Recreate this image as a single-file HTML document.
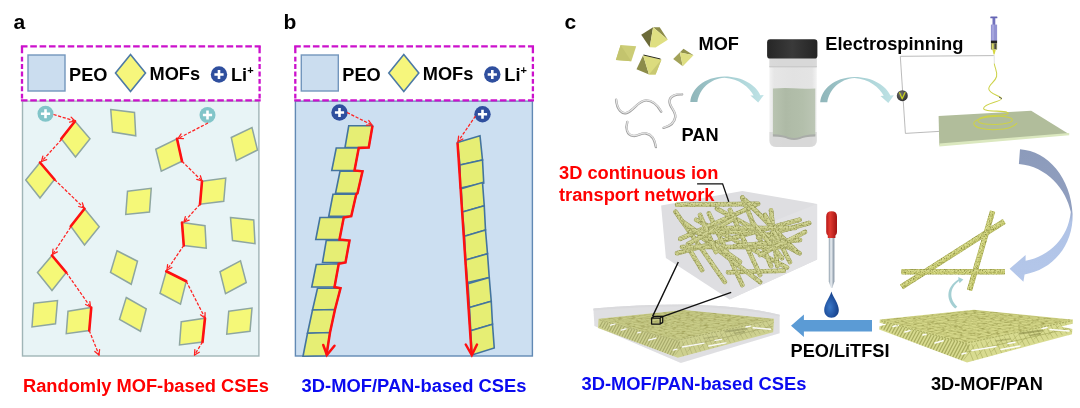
<!DOCTYPE html>
<html lang="en"><head><meta charset="utf-8"><title>MOF/PAN composite solid electrolytes schematic</title>
<style>
html,body{margin:0;padding:0;background:#fff}
svg{display:block}
text{font-family:'Liberation Sans', sans-serif;font-weight:bold}
</style></head>
<body>
<svg width="1080" height="408" viewBox="0 0 1080 408">
<rect width="1080" height="408" fill="#fff"/>
<g opacity="0.999">
<text x="13.5" y="29" font-size="21" fill="#000" text-anchor="start" >a</text>
<rect x="22.5" y="101" width="236.4" height="255" fill="#e8f4f6" stroke="#a0b5b7" stroke-width="1.4"/>
<rect x="22" y="46.3" width="237.6" height="54" fill="#fff"/>
<path d="M20.9,46.3 H260.70000000000005 M20.9,100.3 H260.70000000000005" fill="none" stroke="#cc11cc" stroke-width="2.3" stroke-dasharray="6.6 2.75"/>
<path d="M22,46.3 V100.3 M259.6,46.3 V100.3" fill="none" stroke="#cc11cc" stroke-width="2.3" stroke-dasharray="7 3.4 4.9 2.5 4.9 2.5 4.9 2.5 4.9 2.5 4.9 2.5 4.9 2.2 10"/>
<rect x="28" y="55" width="37" height="36" fill="#cbddef" stroke="#7396bd" stroke-width="1.4"/>
<text x="69" y="80.5" font-size="18.2" fill="#000" text-anchor="start" >PEO</text>
<polygon points="130.50,54.50 145.50,73.00 130.50,91.50 115.50,73.00" fill="#f6f67c" stroke="#4d7aa6" stroke-width="1.6" stroke-linejoin="miter" />
<text x="149.5" y="79.5" font-size="18.2" fill="#000" text-anchor="start" >MOFs</text>
<circle cx="219" cy="74.5" r="8.2" fill="#2f4f9e"/>
<path d="M214.4,74.5H223.6M219,69.9V79.1" stroke="#fff" stroke-width="2.6" fill="none"/>
<text x="231" y="80.5" font-size="18.2" fill="#000" text-anchor="start" >Li<tspan font-size="11" dy="-7">+</tspan></text>
<polygon points="75.00,121.25 90.00,138.75 75.50,157.00 61.25,138.75" fill="#f5f878" stroke="#8ea6a0" stroke-width="1.5" stroke-linejoin="miter" />
<polygon points="110.75,109.50 134.50,112.50 135.75,135.75 112.50,132.00" fill="#f5f878" stroke="#8ea6a0" stroke-width="1.5" stroke-linejoin="miter" />
<polygon points="155.75,149.25 177.00,138.75 182.00,161.25 161.25,171.25" fill="#f5f878" stroke="#8ea6a0" stroke-width="1.5" stroke-linejoin="miter" />
<polygon points="231.25,137.50 252.00,127.50 257.50,150.00 236.25,160.75" fill="#f5f878" stroke="#8ea6a0" stroke-width="1.5" stroke-linejoin="miter" />
<polygon points="40.00,162.50 54.50,179.50 40.00,198.00 25.75,180.00" fill="#f5f878" stroke="#8ea6a0" stroke-width="1.5" stroke-linejoin="miter" />
<polygon points="127.50,191.25 151.25,188.25 149.50,212.00 125.75,214.50" fill="#f5f878" stroke="#8ea6a0" stroke-width="1.5" stroke-linejoin="miter" />
<polygon points="202.00,181.25 225.75,178.00 223.75,201.25 200.00,204.25" fill="#f5f878" stroke="#8ea6a0" stroke-width="1.5" stroke-linejoin="miter" />
<polygon points="84.50,208.75 99.25,226.75 84.50,245.00 70.75,226.25" fill="#f5f878" stroke="#8ea6a0" stroke-width="1.5" stroke-linejoin="miter" />
<polygon points="182.00,222.50 205.00,225.75 206.25,248.25 183.75,245.50" fill="#f5f878" stroke="#8ea6a0" stroke-width="1.5" stroke-linejoin="miter" />
<polygon points="230.50,217.50 253.75,220.00 255.00,243.75 232.50,240.50" fill="#f5f878" stroke="#8ea6a0" stroke-width="1.5" stroke-linejoin="miter" />
<polygon points="52.00,255.50 66.25,272.50 52.00,290.50 37.50,272.50" fill="#f5f878" stroke="#8ea6a0" stroke-width="1.5" stroke-linejoin="miter" />
<polygon points="117.00,250.75 137.50,261.25 131.25,284.25 110.50,272.50" fill="#f5f878" stroke="#8ea6a0" stroke-width="1.5" stroke-linejoin="miter" />
<polygon points="166.25,271.25 186.25,281.25 180.50,304.25 160.00,293.25" fill="#f5f878" stroke="#8ea6a0" stroke-width="1.5" stroke-linejoin="miter" />
<polygon points="220.00,271.75 240.50,260.75 246.25,282.50 225.50,293.75" fill="#f5f878" stroke="#8ea6a0" stroke-width="1.5" stroke-linejoin="miter" />
<polygon points="33.75,303.25 57.50,300.50 55.50,323.75 32.00,327.00" fill="#f5f878" stroke="#8ea6a0" stroke-width="1.5" stroke-linejoin="miter" />
<polygon points="68.00,311.25 91.25,307.50 89.25,330.50 66.25,333.75" fill="#f5f878" stroke="#8ea6a0" stroke-width="1.5" stroke-linejoin="miter" />
<polygon points="126.25,297.50 146.25,308.75 140.50,331.25 119.50,319.50" fill="#f5f878" stroke="#8ea6a0" stroke-width="1.5" stroke-linejoin="miter" />
<polygon points="181.25,321.75 205.00,318.25 202.50,342.00 179.50,345.00" fill="#f5f878" stroke="#8ea6a0" stroke-width="1.5" stroke-linejoin="miter" />
<polygon points="228.75,311.25 252.00,308.00 250.00,331.25 226.75,334.25" fill="#f5f878" stroke="#8ea6a0" stroke-width="1.5" stroke-linejoin="miter" />
<line x1="75.00" y1="121.25" x2="61.25" y2="138.75" stroke="#ff1010" stroke-width="2.6" stroke-linecap="round"/>
<line x1="177.00" y1="138.75" x2="182.00" y2="161.25" stroke="#ff1010" stroke-width="2.6" stroke-linecap="round"/>
<line x1="40.00" y1="162.50" x2="54.50" y2="179.50" stroke="#ff1010" stroke-width="2.6" stroke-linecap="round"/>
<line x1="202.00" y1="181.25" x2="200.00" y2="204.25" stroke="#ff1010" stroke-width="2.6" stroke-linecap="round"/>
<line x1="84.50" y1="208.75" x2="70.75" y2="226.25" stroke="#ff1010" stroke-width="2.6" stroke-linecap="round"/>
<line x1="182.00" y1="222.50" x2="183.75" y2="245.50" stroke="#ff1010" stroke-width="2.6" stroke-linecap="round"/>
<line x1="52.00" y1="255.50" x2="66.25" y2="272.50" stroke="#ff1010" stroke-width="2.6" stroke-linecap="round"/>
<line x1="166.25" y1="271.25" x2="186.25" y2="281.25" stroke="#ff1010" stroke-width="2.6" stroke-linecap="round"/>
<line x1="91.25" y1="307.50" x2="89.25" y2="330.50" stroke="#ff1010" stroke-width="2.6" stroke-linecap="round"/>
<line x1="205.00" y1="318.25" x2="202.50" y2="342.00" stroke="#ff1010" stroke-width="2.6" stroke-linecap="round"/>
<circle cx="45.5" cy="113.75" r="8" fill="#82c5c9"/>
<path d="M40.9,113.75H50.1M45.5,109.15V118.35" stroke="#fff" stroke-width="2.6" fill="none"/>
<circle cx="207.5" cy="115" r="8" fill="#82c5c9"/>
<path d="M202.9,115H212.1M207.5,110.4V119.6" stroke="#fff" stroke-width="2.6" fill="none"/>
<line x1="53.50" y1="114.50" x2="75.00" y2="121.00" stroke="#ff2020" stroke-width="1.25" stroke-dasharray="3.2 1.6"/>
<line x1="75.00" y1="121.00" x2="69.60" y2="122.07" stroke="#ff2020" stroke-width="1.25" stroke-linecap="round"/>
<line x1="75.00" y1="121.00" x2="71.10" y2="117.12" stroke="#ff2020" stroke-width="1.25" stroke-linecap="round"/>
<line x1="61.50" y1="139.50" x2="41.50" y2="161.50" stroke="#ff2020" stroke-width="1.25" stroke-dasharray="3.2 1.6"/>
<line x1="41.50" y1="161.50" x2="42.86" y2="156.17" stroke="#ff2020" stroke-width="1.25" stroke-linecap="round"/>
<line x1="41.50" y1="161.50" x2="46.68" y2="159.64" stroke="#ff2020" stroke-width="1.25" stroke-linecap="round"/>
<line x1="54.50" y1="179.50" x2="84.00" y2="208.00" stroke="#ff2020" stroke-width="1.25" stroke-dasharray="3.2 1.6"/>
<line x1="84.00" y1="208.00" x2="78.71" y2="206.48" stroke="#ff2020" stroke-width="1.25" stroke-linecap="round"/>
<line x1="84.00" y1="208.00" x2="82.30" y2="202.77" stroke="#ff2020" stroke-width="1.25" stroke-linecap="round"/>
<line x1="70.75" y1="227.00" x2="52.50" y2="254.50" stroke="#ff2020" stroke-width="1.25" stroke-dasharray="3.2 1.6"/>
<line x1="52.50" y1="254.50" x2="53.03" y2="249.03" stroke="#ff2020" stroke-width="1.25" stroke-linecap="round"/>
<line x1="52.50" y1="254.50" x2="57.34" y2="251.88" stroke="#ff2020" stroke-width="1.25" stroke-linecap="round"/>
<line x1="66.25" y1="272.50" x2="90.50" y2="307.00" stroke="#ff2020" stroke-width="1.25" stroke-dasharray="3.2 1.6"/>
<line x1="90.50" y1="307.00" x2="85.59" y2="304.51" stroke="#ff2020" stroke-width="1.25" stroke-linecap="round"/>
<line x1="90.50" y1="307.00" x2="89.82" y2="301.54" stroke="#ff2020" stroke-width="1.25" stroke-linecap="round"/>
<line x1="89.25" y1="330.50" x2="99.00" y2="355.00" stroke="#ff2020" stroke-width="1.25" stroke-dasharray="3.2 1.6"/>
<line x1="99.00" y1="355.00" x2="94.81" y2="351.44" stroke="#ff2020" stroke-width="1.25" stroke-linecap="round"/>
<line x1="99.00" y1="355.00" x2="99.60" y2="349.53" stroke="#ff2020" stroke-width="1.25" stroke-linecap="round"/>
<line x1="208.00" y1="123.00" x2="178.00" y2="138.50" stroke="#ff2020" stroke-width="1.25" stroke-dasharray="3.2 1.6"/>
<line x1="178.00" y1="138.50" x2="181.13" y2="133.98" stroke="#ff2020" stroke-width="1.25" stroke-linecap="round"/>
<line x1="178.00" y1="138.50" x2="183.50" y2="138.56" stroke="#ff2020" stroke-width="1.25" stroke-linecap="round"/>
<line x1="182.00" y1="161.25" x2="202.00" y2="181.00" stroke="#ff2020" stroke-width="1.25" stroke-dasharray="3.2 1.6"/>
<line x1="202.00" y1="181.00" x2="196.73" y2="179.43" stroke="#ff2020" stroke-width="1.25" stroke-linecap="round"/>
<line x1="202.00" y1="181.00" x2="200.36" y2="175.75" stroke="#ff2020" stroke-width="1.25" stroke-linecap="round"/>
<line x1="200.00" y1="204.25" x2="184.00" y2="222.00" stroke="#ff2020" stroke-width="1.25" stroke-dasharray="3.2 1.6"/>
<line x1="184.00" y1="222.00" x2="185.33" y2="216.66" stroke="#ff2020" stroke-width="1.25" stroke-linecap="round"/>
<line x1="184.00" y1="222.00" x2="189.17" y2="220.12" stroke="#ff2020" stroke-width="1.25" stroke-linecap="round"/>
<line x1="183.75" y1="245.50" x2="167.00" y2="270.00" stroke="#ff2020" stroke-width="1.25" stroke-dasharray="3.2 1.6"/>
<line x1="167.00" y1="270.00" x2="167.61" y2="264.53" stroke="#ff2020" stroke-width="1.25" stroke-linecap="round"/>
<line x1="167.00" y1="270.00" x2="171.87" y2="267.45" stroke="#ff2020" stroke-width="1.25" stroke-linecap="round"/>
<line x1="186.25" y1="281.25" x2="205.00" y2="318.00" stroke="#ff2020" stroke-width="1.25" stroke-dasharray="3.2 1.6"/>
<line x1="205.00" y1="318.00" x2="200.49" y2="314.85" stroke="#ff2020" stroke-width="1.25" stroke-linecap="round"/>
<line x1="205.00" y1="318.00" x2="205.09" y2="312.50" stroke="#ff2020" stroke-width="1.25" stroke-linecap="round"/>
<line x1="202.50" y1="342.00" x2="194.50" y2="355.00" stroke="#ff2020" stroke-width="1.25" stroke-dasharray="3.2 1.6"/>
<line x1="194.50" y1="355.00" x2="194.85" y2="349.51" stroke="#ff2020" stroke-width="1.25" stroke-linecap="round"/>
<line x1="194.50" y1="355.00" x2="199.24" y2="352.22" stroke="#ff2020" stroke-width="1.25" stroke-linecap="round"/>
<text x="23" y="392.4" font-size="18.3" fill="#ff0000" text-anchor="start" >Randomly MOF-based CSEs</text>
<text x="283.5" y="29" font-size="21" fill="#000" text-anchor="start" >b</text>
<rect x="295.4" y="101" width="237" height="255" fill="#ccdff1" stroke="#6189b4" stroke-width="1.4"/>
<rect x="295.3" y="46.3" width="237.6" height="54" fill="#fff"/>
<path d="M294.2,46.3 H534.0 M294.2,100.3 H534.0" fill="none" stroke="#cc11cc" stroke-width="2.3" stroke-dasharray="6.6 2.75"/>
<path d="M295.3,46.3 V100.3 M532.9,46.3 V100.3" fill="none" stroke="#cc11cc" stroke-width="2.3" stroke-dasharray="7 3.4 4.9 2.5 4.9 2.5 4.9 2.5 4.9 2.5 4.9 2.5 4.9 2.2 10"/>
<rect x="301.3" y="55" width="37" height="36" fill="#cbddef" stroke="#7396bd" stroke-width="1.4"/>
<text x="342.3" y="80.5" font-size="18.2" fill="#000" text-anchor="start" >PEO</text>
<polygon points="403.80,54.50 418.80,73.00 403.80,91.50 388.80,73.00" fill="#f6f67c" stroke="#4d7aa6" stroke-width="1.6" stroke-linejoin="miter" />
<text x="422.8" y="79.5" font-size="18.2" fill="#000" text-anchor="start" >MOFs</text>
<circle cx="492.3" cy="74.5" r="8.2" fill="#2f4f9e"/>
<path d="M487.7,74.5H496.90000000000003M492.3,69.9V79.1" stroke="#fff" stroke-width="2.6" fill="none"/>
<text x="504.3" y="80.5" font-size="18.2" fill="#000" text-anchor="start" >Li<tspan font-size="11" dy="-7">+</tspan></text>
<polygon points="348.75,125.75 372.50,125.75 368.75,147.50 345.00,147.50" fill="#e6ee74" stroke="#44749e" stroke-width="1.6" stroke-linejoin="miter" />
<polygon points="336.25,148.00 358.75,148.00 354.50,170.50 331.75,170.50" fill="#e6ee74" stroke="#44749e" stroke-width="1.6" stroke-linejoin="miter" />
<polygon points="340.00,171.25 362.50,171.25 357.50,193.25 335.50,193.25" fill="#e6ee74" stroke="#44749e" stroke-width="1.6" stroke-linejoin="miter" />
<polygon points="333.00,194.25 356.25,194.25 351.25,216.25 328.75,216.25" fill="#e6ee74" stroke="#44749e" stroke-width="1.6" stroke-linejoin="miter" />
<polygon points="320.00,217.50 343.75,217.50 339.50,239.50 315.75,239.50" fill="#e6ee74" stroke="#44749e" stroke-width="1.6" stroke-linejoin="miter" />
<polygon points="326.25,240.50 349.50,240.50 345.50,262.50 322.50,262.50" fill="#e6ee74" stroke="#44749e" stroke-width="1.6" stroke-linejoin="miter" />
<polygon points="316.25,264.50 338.75,263.75 334.50,287.00 311.75,287.00" fill="#e6ee74" stroke="#44749e" stroke-width="1.6" stroke-linejoin="miter" />
<polygon points="317.50,288.25 340.50,288.25 335.00,309.50 312.50,310.00" fill="#e6ee74" stroke="#44749e" stroke-width="1.6" stroke-linejoin="miter" />
<polygon points="312.50,310.00 335.00,309.50 330.00,332.50 307.50,333.25" fill="#e6ee74" stroke="#44749e" stroke-width="1.6" stroke-linejoin="miter" />
<polygon points="307.50,333.25 330.00,332.50 326.25,355.75 303.00,356.25" fill="#e6ee74" stroke="#44749e" stroke-width="1.6" stroke-linejoin="miter" />
<polyline points="372.5,125.75 368.75,147.5 358.75,148 354.5,170.5 362.5,171.25 357.5,193.25 356.25,194.25 351.25,216.25 343.75,217.5 339.5,239.5 349.5,240.5 345.5,262.5 338.75,263.75 334.5,287 340.5,288.25 335,309.5 330,332.5 326.6,354.5" fill="none" stroke="#ff1010" stroke-width="2.5" stroke-linejoin="miter"/>
<polyline points="323.25,345 326.9,355 334.5,345.75" fill="none" stroke="#ff1010" stroke-width="2.5" stroke-linecap="round" stroke-linejoin="miter"/>
<polygon points="457.50,142.50 480.00,135.75 482.50,160.00 460.00,165.00" fill="#e6ee74" stroke="#44749e" stroke-width="1.6" stroke-linejoin="miter" />
<polygon points="460.00,165.00 482.50,160.00 483.75,183.00 460.50,188.00" fill="#e6ee74" stroke="#44749e" stroke-width="1.6" stroke-linejoin="miter" />
<polygon points="461.25,188.75 482.50,182.50 484.25,205.75 462.50,212.00" fill="#e6ee74" stroke="#44749e" stroke-width="1.6" stroke-linejoin="miter" />
<polygon points="462.50,212.00 484.25,205.75 485.50,230.00 464.50,236.25" fill="#e6ee74" stroke="#44749e" stroke-width="1.6" stroke-linejoin="miter" />
<polygon points="464.50,236.25 485.50,230.00 487.50,253.75 465.75,260.00" fill="#e6ee74" stroke="#44749e" stroke-width="1.6" stroke-linejoin="miter" />
<polygon points="465.75,260.00 487.50,253.75 489.25,277.50 467.50,282.50" fill="#e6ee74" stroke="#44749e" stroke-width="1.6" stroke-linejoin="miter" />
<polygon points="468.00,283.75 489.25,277.50 491.25,301.25 469.50,307.50" fill="#e6ee74" stroke="#44749e" stroke-width="1.6" stroke-linejoin="miter" />
<polygon points="469.50,307.50 491.25,301.25 492.50,324.25 470.75,330.75" fill="#e6ee74" stroke="#44749e" stroke-width="1.6" stroke-linejoin="miter" />
<polygon points="470.75,330.75 492.50,324.25 494.25,348.00 472.00,355.00" fill="#e6ee74" stroke="#44749e" stroke-width="1.6" stroke-linejoin="miter" />
<polyline points="457.5,142.5 471.6,354" fill="none" stroke="#ff1010" stroke-width="2.5"/>
<polyline points="465.75,344.5 471.8,355 477,344.5" fill="none" stroke="#ff1010" stroke-width="2.5" stroke-linecap="round"/>
<circle cx="339.5" cy="112.5" r="8.2" fill="#2f4f9e"/>
<path d="M334.9,112.5H344.1M339.5,107.9V117.1" stroke="#fff" stroke-width="2.6" fill="none"/>
<circle cx="482.5" cy="114.25" r="8.2" fill="#2f4f9e"/>
<path d="M477.9,114.25H487.1M482.5,109.65V118.85" stroke="#fff" stroke-width="2.6" fill="none"/>
<line x1="347.00" y1="112.50" x2="372.00" y2="125.00" stroke="#ff2020" stroke-width="1.25" stroke-dasharray="3.2 1.6"/>
<line x1="372.00" y1="125.00" x2="366.50" y2="125.14" stroke="#ff2020" stroke-width="1.25" stroke-linecap="round"/>
<line x1="372.00" y1="125.00" x2="368.81" y2="120.52" stroke="#ff2020" stroke-width="1.25" stroke-linecap="round"/>
<line x1="475.50" y1="116.00" x2="458.00" y2="141.50" stroke="#ff2020" stroke-width="1.25" stroke-dasharray="3.2 1.6"/>
<line x1="458.00" y1="141.50" x2="458.62" y2="136.03" stroke="#ff2020" stroke-width="1.25" stroke-linecap="round"/>
<line x1="458.00" y1="141.50" x2="462.88" y2="138.96" stroke="#ff2020" stroke-width="1.25" stroke-linecap="round"/>
<text x="301.6" y="391.8" font-size="18.35" fill="#0a0af0" text-anchor="start" >3D-MOF/PAN-based CSEs</text>
<defs>
<filter id="tex" x="-5%" y="-5%" width="110%" height="110%" color-interpolation-filters="sRGB">
<feTurbulence type="fractalNoise" baseFrequency="0.75" numOctaves="2" seed="4" result="n"/>
<feColorMatrix in="n" type="matrix" values="0 0 0 0 0.55 0 0 0 0 0.56 0 0 0 0 0.26 2.6 0 0 0 -1.15" result="dk"/>
<feComposite in="dk" in2="SourceGraphic" operator="in" result="d2"/>
<feColorMatrix in="n" type="matrix" values="0 0 0 0 0.92 0 0 0 0 0.94 0 0 0 0 0.66 0 -2.6 0 0 1.0" result="lt"/>
<feComposite in="lt" in2="SourceGraphic" operator="in" result="l2"/>
<feMerge><feMergeNode in="SourceGraphic"/><feMergeNode in="l2"/><feMergeNode in="d2"/></feMerge>
</filter>
<filter id="tex2" x="-5%" y="-5%" width="110%" height="110%" color-interpolation-filters="sRGB">
<feTurbulence type="fractalNoise" baseFrequency="0.22 0.6" numOctaves="2" seed="9" result="n"/>
<feColorMatrix in="n" type="matrix" values="0 0 0 0 0.60 0 0 0 0 0.60 0 0 0 0 0.30 2.6 0 0 0 -1.25" result="dk"/>
<feComposite in="dk" in2="SourceGraphic" operator="in" result="d2"/>
<feMerge><feMergeNode in="SourceGraphic"/><feMergeNode in="d2"/></feMerge>
</filter>
<filter id="tex3" x="-5%" y="-5%" width="110%" height="110%" color-interpolation-filters="sRGB">
<feTurbulence type="fractalNoise" baseFrequency="0.6" numOctaves="2" seed="5" result="n"/>
<feColorMatrix in="n" type="matrix" values="0 0 0 0 0.55 0 0 0 0 0.56 0 0 0 0 0.30 2.8 0 0 0 -1.3" result="dk"/>
<feComposite in="dk" in2="SourceGraphic" operator="in" result="d2"/>
<feMerge><feMergeNode in="SourceGraphic"/><feMergeNode in="d2"/></feMerge>
</filter>
<filter id="soft" x="-5%" y="-10%" width="110%" height="120%"><feGaussianBlur stdDeviation="0.45"/></filter>
<linearGradient id="gCap" x1="0" x2="1" y1="0" y2="0"><stop offset="0" stop-color="#262626"/><stop offset=".5" stop-color="#3a3a3a"/><stop offset="1" stop-color="#242424"/></linearGradient>
<linearGradient id="gVial" x1="0" x2="1" y1="0" y2="0"><stop offset="0" stop-color="#f2f2f2"/><stop offset=".1" stop-color="#e6e6e6"/><stop offset=".5" stop-color="#e2e2e2"/><stop offset=".9" stop-color="#e4e4e4"/><stop offset="1" stop-color="#f3f3f3"/></linearGradient>
<linearGradient id="gLiq" x1="0" x2="1" y1="0" y2="0"><stop offset="0" stop-color="#b9c4b1"/><stop offset=".3" stop-color="#aebaa6"/><stop offset=".7" stop-color="#b3bfab"/><stop offset="1" stop-color="#bcc6b5"/></linearGradient>
<linearGradient id="gA1" x1="0" x2="1" y1="0" y2="0"><stop offset="0" stop-color="#8fb5b9"/><stop offset=".5" stop-color="#a6cfd3"/><stop offset="1" stop-color="#bfe3e6"/></linearGradient>
<linearGradient id="gBig" x1="0" x2="0" y1="0" y2="1"><stop offset="0" stop-color="#8c9bbb"/><stop offset=".45" stop-color="#919fbf"/><stop offset=".55" stop-color="#b0c3e6"/><stop offset="1" stop-color="#b4c7ea"/></linearGradient>
<linearGradient id="gBulb" x1="0" x2="1" y1="0" y2="0"><stop offset="0" stop-color="#b81818"/><stop offset=".35" stop-color="#e23a30"/><stop offset="1" stop-color="#a01212"/></linearGradient>
<linearGradient id="gTube" x1="0" x2="1" y1="0" y2="0"><stop offset="0" stop-color="#8a9aa8"/><stop offset=".4" stop-color="#eef2f6"/><stop offset="1" stop-color="#7c8c9c"/></linearGradient>
<radialGradient id="gDrop" cx=".4" cy=".6" r=".7"><stop offset="0" stop-color="#3a78c8"/><stop offset=".6" stop-color="#1f4f9c"/><stop offset="1" stop-color="#163a7a"/></radialGradient>
<radialGradient id="gV" cx=".4" cy=".35" r=".7"><stop offset="0" stop-color="#707070"/><stop offset="1" stop-color="#2c2c2c"/></radialGradient>
</defs>
<polygon points="653.10,27.30 641.20,34.70 649.70,47.20" fill="#6c6b39" />
<polygon points="653.10,27.30 659.70,27.30 667.80,39.80" fill="#8d8c4a" />
<polygon points="653.10,27.30 667.80,39.80 655.60,47.40 649.70,47.20" fill="#dfdf82" />
<polygon points="620.60,45.00 636.20,46.20 631.30,61.20 615.90,60.00" fill="#cccd76" />
<polygon points="620.60,45.00 631.30,61.20 615.90,60.00" fill="#c3c46e" />
<polygon points="643.10,55.30 636.50,69.30 649.00,74.60" fill="#8c8c4a" />
<polygon points="643.10,55.30 661.50,59.40 655.60,74.60 649.00,74.60" fill="#dcdc7e" />
<polygon points="649.00,74.60 655.60,74.60 661.50,59.40" fill="#c9c972" />
<path d="M643.5,55 L660.5,59" stroke="#2a2a1a" stroke-width="1" fill="none"/>
<polygon points="683.50,48.70 673.20,59.00 679.90,52.50" fill="#7f7f42" />
<polygon points="683.50,48.70 693.50,55.30 679.90,52.50" fill="#92924c" />
<polygon points="673.20,59.00 679.90,52.50 682.80,66.30" fill="#a2a258" />
<polygon points="679.90,52.50 693.50,55.30 682.80,66.30" fill="#dede82" />
<path d="M616.1,99.6 C617,110 622,114.3 626.6,113 C633.5,111 638,100.6 646.1,100.4 C653,100.3 658,106 661.2,111.6" stroke="#9c9c9c" stroke-width="2.4" fill="none" stroke-linecap="round"/>
<path d="M616.1,99.6 C617,110 622,114.3 626.6,113 C633.5,111 638,100.6 646.1,100.4 C653,100.3 658,106 661.2,111.6" stroke="#e4e4e4" stroke-width="1.25" fill="none" stroke-linecap="round" transform="translate(0.1,-0.35)"/>
<path d="M682.1,94.4 C676,94 670,96 669.5,101 C669,107 676,111 675.3,117 C674.5,123 669,126.5 663.6,127.9" stroke="#9c9c9c" stroke-width="2.4" fill="none" stroke-linecap="round"/>
<path d="M682.1,94.4 C676,94 670,96 669.5,101 C669,107 676,111 675.3,117 C674.5,123 669,126.5 663.6,127.9" stroke="#e4e4e4" stroke-width="1.25" fill="none" stroke-linecap="round" transform="translate(0.1,-0.35)"/>
<path d="M627.3,121.9 C625.5,128 626.5,135 633.3,135.9 C638,136.5 641,132.5 646.1,133.5 C652,134.7 655,141 655.9,147.1" stroke="#9c9c9c" stroke-width="2.4" fill="none" stroke-linecap="round"/>
<path d="M627.3,121.9 C625.5,128 626.5,135 633.3,135.9 C638,136.5 641,132.5 646.1,133.5 C652,134.7 655,141 655.9,147.1" stroke="#e4e4e4" stroke-width="1.25" fill="none" stroke-linecap="round" transform="translate(0.1,-0.35)"/>
<path d="M690.3,101.9 C691.5,89.0 704.0,77.0 724.5,76.6 C743.0,76.6 756.0,85.5 760.3,95.2 L763.8,95.0 L758.2,102.6 L750.4,95.6 L753.6,95.5 C749.5,87.5 739.0,78.4 724.5,77.7 C710.0,78.6 699.5,89.0 697.4,101.9 Z" fill="url(#gA1)"/>
<path d="M820.2,102.2 C821.4,89.3 833.9,77.3 854.5,76.9 C873.1,76.9 886.1,85.8 890.4,95.5 L893.9,95.3 L888.3,102.9 L880.5,95.9 L883.7,95.8 C879.6,87.8 869.0,78.7 854.5,78.0 C840.0,78.9 829.4,89.3 827.3,102.2 Z" fill="url(#gA1)"/>
<path d="M769.4,57 H816.8 V140.5 Q816.8,146.9 809.5,146.9 H776.5 Q769.4,146.9 769.4,140.5 Z" fill="url(#gVial)"/>
<path d="M769.4,132 H816.8 V140.5 Q816.8,146.9 809.5,146.9 H776.5 Q769.4,146.9 769.4,140.5 Z" fill="#d4d4d4" opacity=".75"/>
<rect x="769.4" y="58" width="47.4" height="8.8" fill="#d6d6d6" opacity=".85"/>
<rect x="769.4" y="66" width="47.4" height="1.4" fill="#cbcbcb"/>
<path d="M772.9,88.6 Q783,87.6 793,88.3 T815.3,88.4 V135.2 Q804,135.4 800,137.8 Q794,140 788,137.8 Q784,135.4 772.9,135.2 Z" fill="url(#gLiq)"/>
<path d="M772.9,134.2 Q784,134.6 788,137 Q794,139 800,137 Q804,134.6 815.3,134.2 V136.4 Q804,136.8 800,139 Q794,141.2 788,139 Q784,136.8 772.9,136.4 Z" fill="#a9aca8"/>
<rect x="767.1" y="39.2" width="50.3" height="19.4" rx="3.2" fill="url(#gCap)"/>
<path d="M994,55.6 L900.3,56.3 L905.4,133.4 L939,131.4" stroke="#a4a4a4" stroke-width="0.75" fill="none"/>
<circle cx="902.3" cy="95.7" r="5.5" fill="url(#gV)"/>
<path d="M899.6,92.8 L902.2,98.8 L905,92.6" stroke="#c8d020" stroke-width="1.3" fill="none" stroke-linecap="round" stroke-linejoin="round"/>
<polygon points="938.60,115.90 1031.20,110.70 1069.20,134.30 939.30,145.30" fill="#b1bd9b" />
<polygon points="939.30,143.60 1069.20,133.00 1069.20,135.30 939.30,146.60" fill="#dbe8bf" />
<path d="M994.2,55 L994.4,64" stroke="#e6e6e6" stroke-width="1.2" fill="none"/>
<path d="M994.3,64 C995.3,69 997.6,72 996.6,76.5 C995,82.5 988.5,84.5 988.8,89 C989.2,94 1000.5,95.5 1001.6,98.5 C1002.5,101.5 984,103.5 983.6,108.3 C983.3,112 1003,110.4 1007,112.3 C1012,114.5 1000,115.4 993,115.6 C985,116 978,118 978,120.5 C978,123.5 986,124.6 996,124.4 C1005,124.2 1012.6,122.6 1012.4,119.8 C1012.2,117 1003,116 995,116.4 C982,117 973.6,120.2 973.8,123.6 C974,127.6 984,130.2 997,129.6 C1008,129.1 1014,126.6 1016.8,123.4" stroke="#cdd248" stroke-width="1.05" fill="none" stroke-linecap="round"/>
<path d="M999,97 L1001.8,98.6" stroke="#555" stroke-width="1" fill="none"/>
<rect x="990.3" y="16.4" width="7.1" height="1.9" rx=".6" fill="#6464b4"/>
<rect x="992.5" y="18" width="2.8" height="7" fill="#7070bc"/>
<rect x="990.9" y="24.6" width="6.2" height="16.4" fill="#9292d2"/>
<rect x="992.2" y="24.6" width="1.6" height="16.4" fill="#a8a8e0"/>
<rect x="990.9" y="40.6" width="6.2" height="2.4" fill="#222"/>
<rect x="990.9" y="43" width="6.2" height="6.6" fill="#8a8a60"/>
<rect x="992" y="43.6" width="1.6" height="5.4" fill="#d8d860"/><rect x="994.6" y="43.6" width="1.4" height="5.4" fill="#444"/>
<path d="M992.4,49.6 H995.8 L994.6,54.4 H993.6 Z" fill="#d6d640"/>
<path d="M1020,149.2 C1048,151 1071,178 1072.6,214 C1073.5,246 1052,270 1024.6,274.4 L1023.4,281.8 L1009.6,268.8 L1025.6,255 L1025.6,260.8 C1050,256 1068,238 1070.8,212 C1066.5,190 1047,166 1018.9,163.9 Z" fill="url(#gBig)"/>
<g filter="url(#soft)"><g filter="url(#tex)">
<line x1="901.6" y1="286.8" x2="1004.2" y2="221.3" stroke="#b4b764" stroke-width="5.6" stroke-linecap="butt"/><line x1="901.6" y1="286.8" x2="1004.2" y2="221.3" stroke="#cdd076" stroke-width="4.5" stroke-linecap="butt"/><line x1="901.1" y1="286.0" x2="1003.7" y2="220.5" stroke="#d8db8c" stroke-width="1.9" stroke-linecap="butt"/>
<line x1="969.5" y1="290.2" x2="992.6" y2="211.2" stroke="#b4b764" stroke-width="5.4" stroke-linecap="butt"/><line x1="969.5" y1="290.2" x2="992.6" y2="211.2" stroke="#cdd076" stroke-width="4.3" stroke-linecap="butt"/><line x1="968.7" y1="290.0" x2="991.8" y2="211.0" stroke="#d8db8c" stroke-width="1.8" stroke-linecap="butt"/>
<line x1="901.6" y1="271.8" x2="1004.8" y2="271.8" stroke="#b4b764" stroke-width="5.6" stroke-linecap="butt"/><line x1="901.6" y1="271.8" x2="1004.8" y2="271.8" stroke="#cdd076" stroke-width="4.5" stroke-linecap="butt"/><line x1="901.6" y1="270.9" x2="1004.8" y2="270.9" stroke="#d8db8c" stroke-width="1.9" stroke-linecap="butt"/>
</g>
</g>
<path d="M955.2,308.5 C946.4,301 944.9,288 958.5,279.3 L958.2,277.1 L963.4,279.5 L959.5,283.3 L959,281.1 C948.6,288.6 949.6,299.6 957.3,306.8 Z" fill="#a4cfd3"/>
<clipPath id="mc879"><polygon points="879.8,319.6 973.9,309.8 1073.0,319.6 1072.0,334.3 967.0,362.4 879.2,329.6"/></clipPath>
<g clip-path="url(#mc879)"><g filter="url(#soft)">
<polygon points="870.0,310.0 973.9,300.0 1083.0,310.0 1082.0,340.0 967.0,372.0 870.0,335.0" fill="#d8db90" />
<line x1="884.2" y1="322.9" x2="881.3" y2="328.2" stroke="#9da154" stroke-width="1.25" stroke-linecap="round" opacity="0.8"/>
<line x1="887.1" y1="323.7" x2="884.0" y2="329.4" stroke="#9da154" stroke-width="1.25" stroke-linecap="round" opacity="0.8"/>
<line x1="890.1" y1="324.4" x2="886.7" y2="330.6" stroke="#9da154" stroke-width="1.25" stroke-linecap="round" opacity="0.8"/>
<line x1="893.0" y1="325.2" x2="889.4" y2="331.8" stroke="#9da154" stroke-width="1.25" stroke-linecap="round" opacity="0.8"/>
<line x1="895.9" y1="325.9" x2="892.1" y2="333.0" stroke="#9da154" stroke-width="1.25" stroke-linecap="round" opacity="0.8"/>
<line x1="898.9" y1="326.7" x2="894.8" y2="334.1" stroke="#9da154" stroke-width="1.25" stroke-linecap="round" opacity="0.8"/>
<line x1="901.8" y1="327.5" x2="897.5" y2="335.3" stroke="#9da154" stroke-width="1.25" stroke-linecap="round" opacity="0.8"/>
<line x1="904.7" y1="328.2" x2="900.2" y2="336.5" stroke="#9da154" stroke-width="1.25" stroke-linecap="round" opacity="0.8"/>
<line x1="907.6" y1="329.0" x2="902.9" y2="337.7" stroke="#9da154" stroke-width="1.25" stroke-linecap="round" opacity="0.8"/>
<line x1="910.6" y1="329.7" x2="905.7" y2="338.9" stroke="#9da154" stroke-width="1.25" stroke-linecap="round" opacity="0.8"/>
<line x1="913.5" y1="330.5" x2="908.4" y2="340.1" stroke="#9da154" stroke-width="1.25" stroke-linecap="round" opacity="0.8"/>
<line x1="916.4" y1="331.2" x2="911.1" y2="341.3" stroke="#9da154" stroke-width="1.25" stroke-linecap="round" opacity="0.8"/>
<line x1="919.4" y1="332.0" x2="913.8" y2="342.5" stroke="#9da154" stroke-width="1.25" stroke-linecap="round" opacity="0.8"/>
<line x1="922.3" y1="332.8" x2="916.5" y2="343.7" stroke="#9da154" stroke-width="1.25" stroke-linecap="round" opacity="0.8"/>
<line x1="925.2" y1="333.5" x2="919.2" y2="344.9" stroke="#9da154" stroke-width="1.25" stroke-linecap="round" opacity="0.8"/>
<line x1="928.2" y1="334.3" x2="921.9" y2="346.0" stroke="#9da154" stroke-width="1.25" stroke-linecap="round" opacity="0.8"/>
<line x1="931.1" y1="335.0" x2="924.6" y2="347.2" stroke="#9da154" stroke-width="1.25" stroke-linecap="round" opacity="0.8"/>
<line x1="934.0" y1="335.8" x2="927.3" y2="348.4" stroke="#9da154" stroke-width="1.25" stroke-linecap="round" opacity="0.8"/>
<line x1="937.0" y1="336.6" x2="930.0" y2="349.6" stroke="#9da154" stroke-width="1.25" stroke-linecap="round" opacity="0.8"/>
<line x1="939.9" y1="337.3" x2="932.7" y2="350.8" stroke="#9da154" stroke-width="1.25" stroke-linecap="round" opacity="0.8"/>
<line x1="942.8" y1="338.1" x2="935.4" y2="352.0" stroke="#9da154" stroke-width="1.25" stroke-linecap="round" opacity="0.8"/>
<line x1="945.8" y1="338.8" x2="938.1" y2="353.2" stroke="#9da154" stroke-width="1.25" stroke-linecap="round" opacity="0.8"/>
<line x1="948.7" y1="339.6" x2="940.8" y2="354.4" stroke="#9da154" stroke-width="1.25" stroke-linecap="round" opacity="0.8"/>
<line x1="951.6" y1="340.3" x2="943.5" y2="355.6" stroke="#9da154" stroke-width="1.25" stroke-linecap="round" opacity="0.8"/>
<line x1="954.5" y1="341.1" x2="946.3" y2="356.8" stroke="#9da154" stroke-width="1.25" stroke-linecap="round" opacity="0.8"/>
<line x1="957.5" y1="341.9" x2="949.0" y2="357.9" stroke="#9da154" stroke-width="1.25" stroke-linecap="round" opacity="0.8"/>
<line x1="960.4" y1="342.6" x2="951.7" y2="359.1" stroke="#9da154" stroke-width="1.25" stroke-linecap="round" opacity="0.8"/>
<line x1="963.3" y1="343.4" x2="954.4" y2="360.3" stroke="#9da154" stroke-width="1.25" stroke-linecap="round" opacity="0.8"/>
<line x1="966.3" y1="344.1" x2="957.1" y2="361.5" stroke="#9da154" stroke-width="1.25" stroke-linecap="round" opacity="0.8"/>
<line x1="969.2" y1="344.9" x2="959.8" y2="362.7" stroke="#9da154" stroke-width="1.25" stroke-linecap="round" opacity="0.8"/>
<line x1="967.0" y1="345.1" x2="973.5" y2="361.0" stroke="#9da154" stroke-width="0.90" stroke-linecap="round" opacity="0.55"/>
<line x1="975.0" y1="345.1" x2="964.0" y2="359.4" stroke="#9da154" stroke-width="0.90" stroke-linecap="round" opacity="0.5"/>
<line x1="971.7" y1="344.1" x2="978.2" y2="359.6" stroke="#9da154" stroke-width="0.90" stroke-linecap="round" opacity="0.55"/>
<line x1="976.3" y1="343.0" x2="982.8" y2="358.2" stroke="#9da154" stroke-width="0.90" stroke-linecap="round" opacity="0.55"/>
<line x1="981.0" y1="342.0" x2="987.5" y2="356.9" stroke="#9da154" stroke-width="0.90" stroke-linecap="round" opacity="0.55"/>
<line x1="989.0" y1="342.0" x2="978.0" y2="355.3" stroke="#9da154" stroke-width="0.90" stroke-linecap="round" opacity="0.5"/>
<line x1="985.7" y1="340.9" x2="992.2" y2="355.5" stroke="#9da154" stroke-width="0.90" stroke-linecap="round" opacity="0.55"/>
<line x1="990.3" y1="339.9" x2="996.8" y2="354.1" stroke="#9da154" stroke-width="0.90" stroke-linecap="round" opacity="0.55"/>
<line x1="995.0" y1="338.8" x2="1001.5" y2="352.7" stroke="#9da154" stroke-width="0.90" stroke-linecap="round" opacity="0.55"/>
<line x1="1003.0" y1="338.8" x2="992.0" y2="351.3" stroke="#9da154" stroke-width="0.90" stroke-linecap="round" opacity="0.5"/>
<line x1="999.7" y1="337.8" x2="1006.2" y2="351.3" stroke="#9da154" stroke-width="0.90" stroke-linecap="round" opacity="0.55"/>
<line x1="1004.3" y1="336.7" x2="1010.8" y2="350.0" stroke="#9da154" stroke-width="0.90" stroke-linecap="round" opacity="0.55"/>
<line x1="1009.0" y1="335.7" x2="1015.5" y2="348.6" stroke="#9da154" stroke-width="0.90" stroke-linecap="round" opacity="0.55"/>
<line x1="1017.0" y1="335.7" x2="1006.0" y2="347.2" stroke="#9da154" stroke-width="0.90" stroke-linecap="round" opacity="0.5"/>
<line x1="1013.7" y1="334.6" x2="1020.2" y2="347.2" stroke="#9da154" stroke-width="0.90" stroke-linecap="round" opacity="0.55"/>
<line x1="1018.3" y1="333.6" x2="1024.8" y2="345.8" stroke="#9da154" stroke-width="0.90" stroke-linecap="round" opacity="0.55"/>
<line x1="1023.0" y1="332.5" x2="1029.5" y2="344.4" stroke="#9da154" stroke-width="0.90" stroke-linecap="round" opacity="0.55"/>
<line x1="1031.0" y1="332.5" x2="1020.0" y2="343.2" stroke="#9da154" stroke-width="0.90" stroke-linecap="round" opacity="0.5"/>
<line x1="1027.7" y1="331.5" x2="1034.2" y2="343.0" stroke="#9da154" stroke-width="0.90" stroke-linecap="round" opacity="0.55"/>
<line x1="1032.3" y1="330.4" x2="1038.8" y2="341.7" stroke="#9da154" stroke-width="0.90" stroke-linecap="round" opacity="0.55"/>
<line x1="1037.0" y1="329.4" x2="1043.5" y2="340.3" stroke="#9da154" stroke-width="0.90" stroke-linecap="round" opacity="0.55"/>
<line x1="1045.0" y1="329.4" x2="1034.0" y2="339.1" stroke="#9da154" stroke-width="0.90" stroke-linecap="round" opacity="0.5"/>
<line x1="1041.7" y1="328.3" x2="1048.2" y2="338.9" stroke="#9da154" stroke-width="0.90" stroke-linecap="round" opacity="0.55"/>
<line x1="1046.3" y1="327.3" x2="1052.8" y2="337.5" stroke="#9da154" stroke-width="0.90" stroke-linecap="round" opacity="0.55"/>
<line x1="1051.0" y1="326.2" x2="1057.5" y2="336.1" stroke="#9da154" stroke-width="0.90" stroke-linecap="round" opacity="0.55"/>
<line x1="1059.0" y1="326.2" x2="1048.0" y2="335.1" stroke="#9da154" stroke-width="0.90" stroke-linecap="round" opacity="0.5"/>
<line x1="1055.7" y1="325.2" x2="1062.2" y2="334.8" stroke="#9da154" stroke-width="0.90" stroke-linecap="round" opacity="0.55"/>
<line x1="1060.3" y1="324.1" x2="1066.8" y2="333.4" stroke="#9da154" stroke-width="0.90" stroke-linecap="round" opacity="0.55"/>
<line x1="1065.0" y1="323.1" x2="1071.5" y2="332.0" stroke="#9da154" stroke-width="0.90" stroke-linecap="round" opacity="0.55"/>
<line x1="1073.0" y1="323.1" x2="1062.0" y2="331.1" stroke="#9da154" stroke-width="0.90" stroke-linecap="round" opacity="0.5"/>
<line x1="967.0" y1="352.0" x2="1071.0" y2="328.0" stroke="#9da154" stroke-width="1.00" stroke-linecap="round" opacity="0.6"/>
<line x1="1020.0" y1="333.5" x2="1042.0" y2="330.5" stroke="#7c7e3c" stroke-width="2.20" stroke-linecap="round" opacity="0.55"/>
<line x1="1030.0" y1="335.5" x2="1040.0" y2="333.6" stroke="#7c7e3c" stroke-width="1.60" stroke-linecap="round" opacity="0.5"/>
<line x1="996.0" y1="341.0" x2="1010.0" y2="339.0" stroke="#7c7e3c" stroke-width="1.40" stroke-linecap="round" opacity="0.4"/>
<line x1="893.0" y1="326.6" x2="898.5" y2="325.2" stroke="#fff" stroke-width="1.50" stroke-linecap="round" opacity="0.95"/>
<line x1="905.0" y1="332.0" x2="910.0" y2="330.6" stroke="#fff" stroke-width="1.50" stroke-linecap="round" opacity="0.95"/>
<line x1="935.0" y1="343.0" x2="943.0" y2="340.8" stroke="#fff" stroke-width="1.50" stroke-linecap="round" opacity="0.95"/>
<line x1="972.0" y1="350.6" x2="996.0" y2="346.4" stroke="#fff" stroke-width="1.50" stroke-linecap="round" opacity="0.95"/>
<line x1="1050.0" y1="329.4" x2="1069.0" y2="331.0" stroke="#fff" stroke-width="1.50" stroke-linecap="round" opacity="0.95"/>
<line x1="1008.0" y1="343.4" x2="1015.0" y2="342.2" stroke="#fff" stroke-width="1.50" stroke-linecap="round" opacity="0.95"/>
<line x1="1042.0" y1="328.6" x2="1047.0" y2="327.6" stroke="#fff" stroke-width="1.50" stroke-linecap="round" opacity="0.95"/>
<line x1="962.0" y1="354.0" x2="966.0" y2="353.0" stroke="#fff" stroke-width="1.50" stroke-linecap="round" opacity="0.95"/>
<line x1="1001.0" y1="349.5" x2="1020.0" y2="346.0" stroke="#fff" stroke-width="1.50" stroke-linecap="round" opacity="0.95"/>
<line x1="923.0" y1="335.0" x2="926.0" y2="334.2" stroke="#fff" stroke-width="1.50" stroke-linecap="round" opacity="0.95"/>
<g filter="url(#tex2)">
<polygon points="879.8,319.6 973.9,309.8 1073.0,319.6 966.0,342.4" fill="#d6d88a" />
</g>
<line x1="883.2" y1="319.2" x2="969.8" y2="341.6" stroke="#a9ad60" stroke-width="0.70" stroke-linecap="round" opacity="0.5"/>
<line x1="889.9" y1="318.6" x2="977.5" y2="340.0" stroke="#a9ad60" stroke-width="0.70" stroke-linecap="round" opacity="0.5"/>
<line x1="896.6" y1="317.9" x2="985.1" y2="338.3" stroke="#a9ad60" stroke-width="0.70" stroke-linecap="round" opacity="0.5"/>
<line x1="903.3" y1="317.2" x2="992.8" y2="336.7" stroke="#a9ad60" stroke-width="0.70" stroke-linecap="round" opacity="0.5"/>
<line x1="910.0" y1="316.5" x2="1000.4" y2="335.1" stroke="#a9ad60" stroke-width="0.70" stroke-linecap="round" opacity="0.5"/>
<line x1="916.8" y1="315.8" x2="1008.0" y2="333.4" stroke="#a9ad60" stroke-width="0.70" stroke-linecap="round" opacity="0.5"/>
<line x1="923.5" y1="315.1" x2="1015.7" y2="331.8" stroke="#a9ad60" stroke-width="0.70" stroke-linecap="round" opacity="0.5"/>
<line x1="930.2" y1="314.4" x2="1023.3" y2="330.2" stroke="#a9ad60" stroke-width="0.70" stroke-linecap="round" opacity="0.5"/>
<line x1="936.9" y1="313.7" x2="1031.0" y2="328.6" stroke="#a9ad60" stroke-width="0.70" stroke-linecap="round" opacity="0.5"/>
<line x1="943.7" y1="312.9" x2="1038.6" y2="326.9" stroke="#a9ad60" stroke-width="0.70" stroke-linecap="round" opacity="0.5"/>
<line x1="950.4" y1="312.2" x2="1046.2" y2="325.3" stroke="#a9ad60" stroke-width="0.70" stroke-linecap="round" opacity="0.5"/>
<line x1="957.1" y1="311.6" x2="1053.9" y2="323.7" stroke="#a9ad60" stroke-width="0.70" stroke-linecap="round" opacity="0.5"/>
<line x1="963.8" y1="310.9" x2="1061.5" y2="322.0" stroke="#a9ad60" stroke-width="0.70" stroke-linecap="round" opacity="0.5"/>
<line x1="970.5" y1="310.2" x2="1069.2" y2="320.4" stroke="#a9ad60" stroke-width="0.70" stroke-linecap="round" opacity="0.5"/>
<line x1="884.1" y1="320.7" x2="978.9" y2="310.3" stroke="#adb164" stroke-width="0.70" stroke-linecap="round" opacity="0.45"/>
<line x1="892.7" y1="323.0" x2="988.8" y2="311.3" stroke="#adb164" stroke-width="0.70" stroke-linecap="round" opacity="0.45"/>
<line x1="901.3" y1="325.3" x2="998.7" y2="312.2" stroke="#adb164" stroke-width="0.70" stroke-linecap="round" opacity="0.45"/>
<line x1="910.0" y1="327.6" x2="1008.6" y2="313.2" stroke="#adb164" stroke-width="0.70" stroke-linecap="round" opacity="0.45"/>
<line x1="918.6" y1="329.9" x2="1018.5" y2="314.2" stroke="#adb164" stroke-width="0.70" stroke-linecap="round" opacity="0.45"/>
<line x1="927.2" y1="332.1" x2="1028.4" y2="315.2" stroke="#adb164" stroke-width="0.70" stroke-linecap="round" opacity="0.45"/>
<line x1="935.8" y1="334.4" x2="1038.3" y2="316.2" stroke="#adb164" stroke-width="0.70" stroke-linecap="round" opacity="0.45"/>
<line x1="944.5" y1="336.7" x2="1048.2" y2="317.2" stroke="#adb164" stroke-width="0.70" stroke-linecap="round" opacity="0.45"/>
<line x1="953.1" y1="339.0" x2="1058.1" y2="318.1" stroke="#adb164" stroke-width="0.70" stroke-linecap="round" opacity="0.45"/>
<line x1="961.7" y1="341.3" x2="1068.0" y2="319.1" stroke="#adb164" stroke-width="0.70" stroke-linecap="round" opacity="0.45"/>
<polyline points="881.0,320.8 966.0,343.2 1071.6,320.8" fill="none" stroke="#9da154" stroke-width="1.10" opacity=".75" stroke-dasharray="2.2 0.9"/>
</g></g>
<polygon points="878.50,322.60 886.50,324.60 878.50,326.40" fill="#fff" />
<polygon points="1074.00,323.20 1061.00,326.80 1074.00,329.20" fill="#fff" />
<polygon points="791.00,325.80 803.90,314.60 803.90,320.00 872.00,320.00 872.00,331.40 803.90,331.40 803.90,337.00" fill="#5b9bd5" />
<path d="M828.8,237 H834.4 V281.5 L832.3,288 H831 L828.8,281.5 Z" fill="url(#gTube)"/>
<path d="M826.2,216.5 Q826.2,211.2 831.6,211.2 Q837,211.2 837,216.5 V232 Q837,234.5 835.4,235.5 V238 H827.8 V235.5 Q826.2,234.5 826.2,232 Z" fill="url(#gBulb)"/>
<path d="M831.4,291.4 C833.5,298 838.8,303.5 838.8,310 C838.8,314.6 835.6,317.7 831.5,317.7 C827.4,317.7 824.2,314.6 824.2,310 C824.2,303.5 829.5,298 831.4,291.4 Z" fill="url(#gDrop)"/>
<path d="M593.4,308.5 Q640,304.5 683,304.6 Q740,305.5 779.6,314.7 L779.6,333.2 L680.8,363 L594.4,326 Z" fill="#e0e0e3"/>
<path d="M593.4,308.5 Q640,304.5 683,304.6 Q740,305.5 779.6,314.7 L779.6,316.4 Q740,307.4 683,306.4 Q640,306.4 593.4,310.4 Z" fill="#dadadd"/>
<g opacity=".98"><clipPath id="mc598"><polygon points="598.5,318.8 684.0,309.9 774.1,318.8 773.2,332.2 677.8,357.7 598.0,327.9"/></clipPath>
<g clip-path="url(#mc598)"><g filter="url(#soft)">
<polygon points="589.6,310.1 684.0,301.0 783.2,310.1 782.3,337.3 677.8,366.4 589.6,332.8" fill="#cdd08a" />
<line x1="602.5" y1="321.8" x2="599.9" y2="326.6" stroke="#999c58" stroke-width="1.14" stroke-linecap="round" opacity="0.8"/>
<line x1="605.2" y1="322.5" x2="602.3" y2="327.7" stroke="#999c58" stroke-width="1.14" stroke-linecap="round" opacity="0.8"/>
<line x1="607.8" y1="323.2" x2="604.8" y2="328.8" stroke="#999c58" stroke-width="1.14" stroke-linecap="round" opacity="0.8"/>
<line x1="610.5" y1="323.9" x2="607.2" y2="329.9" stroke="#999c58" stroke-width="1.14" stroke-linecap="round" opacity="0.8"/>
<line x1="613.2" y1="324.6" x2="609.7" y2="330.9" stroke="#999c58" stroke-width="1.14" stroke-linecap="round" opacity="0.8"/>
<line x1="615.8" y1="325.2" x2="612.2" y2="332.0" stroke="#999c58" stroke-width="1.14" stroke-linecap="round" opacity="0.8"/>
<line x1="618.5" y1="325.9" x2="614.6" y2="333.1" stroke="#999c58" stroke-width="1.14" stroke-linecap="round" opacity="0.8"/>
<line x1="621.1" y1="326.6" x2="617.1" y2="334.2" stroke="#999c58" stroke-width="1.14" stroke-linecap="round" opacity="0.8"/>
<line x1="623.8" y1="327.3" x2="619.5" y2="335.3" stroke="#999c58" stroke-width="1.14" stroke-linecap="round" opacity="0.8"/>
<line x1="626.5" y1="328.0" x2="622.0" y2="336.3" stroke="#999c58" stroke-width="1.14" stroke-linecap="round" opacity="0.8"/>
<line x1="629.1" y1="328.7" x2="624.5" y2="337.4" stroke="#999c58" stroke-width="1.14" stroke-linecap="round" opacity="0.8"/>
<line x1="631.8" y1="329.4" x2="626.9" y2="338.5" stroke="#999c58" stroke-width="1.14" stroke-linecap="round" opacity="0.8"/>
<line x1="634.5" y1="330.1" x2="629.4" y2="339.6" stroke="#999c58" stroke-width="1.14" stroke-linecap="round" opacity="0.8"/>
<line x1="637.1" y1="330.8" x2="631.8" y2="340.7" stroke="#999c58" stroke-width="1.14" stroke-linecap="round" opacity="0.8"/>
<line x1="639.8" y1="331.5" x2="634.3" y2="341.8" stroke="#999c58" stroke-width="1.14" stroke-linecap="round" opacity="0.8"/>
<line x1="642.5" y1="332.1" x2="636.8" y2="342.8" stroke="#999c58" stroke-width="1.14" stroke-linecap="round" opacity="0.8"/>
<line x1="645.1" y1="332.8" x2="639.2" y2="343.9" stroke="#999c58" stroke-width="1.14" stroke-linecap="round" opacity="0.8"/>
<line x1="647.8" y1="333.5" x2="641.7" y2="345.0" stroke="#999c58" stroke-width="1.14" stroke-linecap="round" opacity="0.8"/>
<line x1="650.5" y1="334.2" x2="644.1" y2="346.1" stroke="#999c58" stroke-width="1.14" stroke-linecap="round" opacity="0.8"/>
<line x1="653.1" y1="334.9" x2="646.6" y2="347.2" stroke="#999c58" stroke-width="1.14" stroke-linecap="round" opacity="0.8"/>
<line x1="655.8" y1="335.6" x2="649.1" y2="348.2" stroke="#999c58" stroke-width="1.14" stroke-linecap="round" opacity="0.8"/>
<line x1="658.5" y1="336.3" x2="651.5" y2="349.3" stroke="#999c58" stroke-width="1.14" stroke-linecap="round" opacity="0.8"/>
<line x1="661.1" y1="337.0" x2="654.0" y2="350.4" stroke="#999c58" stroke-width="1.14" stroke-linecap="round" opacity="0.8"/>
<line x1="663.8" y1="337.7" x2="656.4" y2="351.5" stroke="#999c58" stroke-width="1.14" stroke-linecap="round" opacity="0.8"/>
<line x1="666.4" y1="338.3" x2="658.9" y2="352.6" stroke="#999c58" stroke-width="1.14" stroke-linecap="round" opacity="0.8"/>
<line x1="669.1" y1="339.0" x2="661.4" y2="353.7" stroke="#999c58" stroke-width="1.14" stroke-linecap="round" opacity="0.8"/>
<line x1="671.8" y1="339.7" x2="663.8" y2="354.7" stroke="#999c58" stroke-width="1.14" stroke-linecap="round" opacity="0.8"/>
<line x1="674.4" y1="340.4" x2="666.3" y2="355.8" stroke="#999c58" stroke-width="1.14" stroke-linecap="round" opacity="0.8"/>
<line x1="677.1" y1="341.1" x2="668.7" y2="356.9" stroke="#999c58" stroke-width="1.14" stroke-linecap="round" opacity="0.8"/>
<line x1="679.8" y1="341.8" x2="671.2" y2="358.0" stroke="#999c58" stroke-width="1.14" stroke-linecap="round" opacity="0.8"/>
<line x1="677.8" y1="342.0" x2="683.7" y2="356.4" stroke="#999c58" stroke-width="0.82" stroke-linecap="round" opacity="0.55"/>
<line x1="685.0" y1="342.0" x2="675.0" y2="354.9" stroke="#999c58" stroke-width="0.82" stroke-linecap="round" opacity="0.5"/>
<line x1="682.0" y1="341.0" x2="687.9" y2="355.2" stroke="#999c58" stroke-width="0.82" stroke-linecap="round" opacity="0.55"/>
<line x1="686.2" y1="340.1" x2="692.2" y2="353.9" stroke="#999c58" stroke-width="0.82" stroke-linecap="round" opacity="0.55"/>
<line x1="690.5" y1="339.1" x2="696.4" y2="352.7" stroke="#999c58" stroke-width="0.82" stroke-linecap="round" opacity="0.55"/>
<line x1="697.8" y1="339.1" x2="687.8" y2="351.3" stroke="#999c58" stroke-width="0.82" stroke-linecap="round" opacity="0.5"/>
<line x1="694.7" y1="338.2" x2="700.6" y2="351.4" stroke="#999c58" stroke-width="0.82" stroke-linecap="round" opacity="0.55"/>
<line x1="699.0" y1="337.2" x2="704.9" y2="350.2" stroke="#999c58" stroke-width="0.82" stroke-linecap="round" opacity="0.55"/>
<line x1="703.2" y1="336.3" x2="709.1" y2="348.9" stroke="#999c58" stroke-width="0.82" stroke-linecap="round" opacity="0.55"/>
<line x1="710.5" y1="336.3" x2="700.5" y2="347.6" stroke="#999c58" stroke-width="0.82" stroke-linecap="round" opacity="0.5"/>
<line x1="707.5" y1="335.3" x2="713.4" y2="347.6" stroke="#999c58" stroke-width="0.82" stroke-linecap="round" opacity="0.55"/>
<line x1="711.7" y1="334.4" x2="717.6" y2="346.4" stroke="#999c58" stroke-width="0.82" stroke-linecap="round" opacity="0.55"/>
<line x1="715.9" y1="333.4" x2="721.9" y2="345.1" stroke="#999c58" stroke-width="0.82" stroke-linecap="round" opacity="0.55"/>
<line x1="723.2" y1="333.4" x2="713.2" y2="343.9" stroke="#999c58" stroke-width="0.82" stroke-linecap="round" opacity="0.5"/>
<line x1="720.2" y1="332.5" x2="726.1" y2="343.9" stroke="#999c58" stroke-width="0.82" stroke-linecap="round" opacity="0.55"/>
<line x1="724.4" y1="331.5" x2="730.3" y2="342.6" stroke="#999c58" stroke-width="0.82" stroke-linecap="round" opacity="0.55"/>
<line x1="728.7" y1="330.6" x2="734.6" y2="341.4" stroke="#999c58" stroke-width="0.82" stroke-linecap="round" opacity="0.55"/>
<line x1="735.9" y1="330.6" x2="725.9" y2="340.2" stroke="#999c58" stroke-width="0.82" stroke-linecap="round" opacity="0.5"/>
<line x1="732.9" y1="329.6" x2="738.8" y2="340.1" stroke="#999c58" stroke-width="0.82" stroke-linecap="round" opacity="0.55"/>
<line x1="737.2" y1="328.6" x2="743.1" y2="338.9" stroke="#999c58" stroke-width="0.82" stroke-linecap="round" opacity="0.55"/>
<line x1="741.4" y1="327.7" x2="747.3" y2="337.6" stroke="#999c58" stroke-width="0.82" stroke-linecap="round" opacity="0.55"/>
<line x1="748.7" y1="327.7" x2="738.7" y2="336.6" stroke="#999c58" stroke-width="0.82" stroke-linecap="round" opacity="0.5"/>
<line x1="745.6" y1="326.7" x2="751.5" y2="336.3" stroke="#999c58" stroke-width="0.82" stroke-linecap="round" opacity="0.55"/>
<line x1="749.9" y1="325.8" x2="755.8" y2="335.1" stroke="#999c58" stroke-width="0.82" stroke-linecap="round" opacity="0.55"/>
<line x1="754.1" y1="324.8" x2="760.0" y2="333.8" stroke="#999c58" stroke-width="0.82" stroke-linecap="round" opacity="0.55"/>
<line x1="761.4" y1="324.8" x2="751.4" y2="332.9" stroke="#999c58" stroke-width="0.82" stroke-linecap="round" opacity="0.5"/>
<line x1="758.4" y1="323.9" x2="764.3" y2="332.6" stroke="#999c58" stroke-width="0.82" stroke-linecap="round" opacity="0.55"/>
<line x1="762.6" y1="322.9" x2="768.5" y2="331.3" stroke="#999c58" stroke-width="0.82" stroke-linecap="round" opacity="0.55"/>
<line x1="766.8" y1="322.0" x2="772.8" y2="330.1" stroke="#999c58" stroke-width="0.82" stroke-linecap="round" opacity="0.55"/>
<line x1="774.1" y1="322.0" x2="764.1" y2="329.2" stroke="#999c58" stroke-width="0.82" stroke-linecap="round" opacity="0.5"/>
<line x1="677.8" y1="348.3" x2="772.3" y2="326.4" stroke="#999c58" stroke-width="0.91" stroke-linecap="round" opacity="0.6"/>
<line x1="725.9" y1="331.4" x2="745.9" y2="328.7" stroke="#84864c" stroke-width="2.00" stroke-linecap="round" opacity="0.55"/>
<line x1="735.0" y1="333.3" x2="744.1" y2="331.5" stroke="#84864c" stroke-width="1.45" stroke-linecap="round" opacity="0.5"/>
<line x1="704.1" y1="338.3" x2="716.9" y2="336.4" stroke="#84864c" stroke-width="1.27" stroke-linecap="round" opacity="0.4"/>
<line x1="610.5" y1="325.2" x2="615.5" y2="323.9" stroke="#fff" stroke-width="1.36" stroke-linecap="round" opacity="0.95"/>
<line x1="621.4" y1="330.1" x2="626.0" y2="328.8" stroke="#fff" stroke-width="1.36" stroke-linecap="round" opacity="0.95"/>
<line x1="648.7" y1="340.1" x2="655.9" y2="338.1" stroke="#fff" stroke-width="1.36" stroke-linecap="round" opacity="0.95"/>
<line x1="682.3" y1="347.0" x2="704.1" y2="343.2" stroke="#fff" stroke-width="1.36" stroke-linecap="round" opacity="0.95"/>
<line x1="753.2" y1="327.7" x2="770.5" y2="329.2" stroke="#fff" stroke-width="1.36" stroke-linecap="round" opacity="0.95"/>
<line x1="715.0" y1="340.4" x2="721.4" y2="339.3" stroke="#fff" stroke-width="1.36" stroke-linecap="round" opacity="0.95"/>
<line x1="745.9" y1="327.0" x2="750.5" y2="326.1" stroke="#fff" stroke-width="1.36" stroke-linecap="round" opacity="0.95"/>
<line x1="673.2" y1="350.1" x2="676.9" y2="349.2" stroke="#fff" stroke-width="1.36" stroke-linecap="round" opacity="0.95"/>
<line x1="708.7" y1="346.0" x2="725.9" y2="342.8" stroke="#fff" stroke-width="1.36" stroke-linecap="round" opacity="0.95"/>
<line x1="637.8" y1="332.8" x2="640.5" y2="332.1" stroke="#fff" stroke-width="1.36" stroke-linecap="round" opacity="0.95"/>
<g filter="url(#tex2)">
<polygon points="598.5,318.8 684.0,309.9 774.1,318.8 676.9,339.5" fill="#cacd84" />
</g>
<line x1="601.6" y1="318.5" x2="680.3" y2="338.8" stroke="#a9ad60" stroke-width="0.64" stroke-linecap="round" opacity="0.5"/>
<line x1="607.7" y1="317.8" x2="687.3" y2="337.3" stroke="#a9ad60" stroke-width="0.64" stroke-linecap="round" opacity="0.5"/>
<line x1="613.8" y1="317.2" x2="694.2" y2="335.8" stroke="#a9ad60" stroke-width="0.64" stroke-linecap="round" opacity="0.5"/>
<line x1="619.9" y1="316.6" x2="701.2" y2="334.3" stroke="#a9ad60" stroke-width="0.64" stroke-linecap="round" opacity="0.5"/>
<line x1="626.0" y1="315.9" x2="708.1" y2="332.9" stroke="#a9ad60" stroke-width="0.64" stroke-linecap="round" opacity="0.5"/>
<line x1="632.1" y1="315.3" x2="715.1" y2="331.4" stroke="#a9ad60" stroke-width="0.64" stroke-linecap="round" opacity="0.5"/>
<line x1="638.2" y1="314.7" x2="722.0" y2="329.9" stroke="#a9ad60" stroke-width="0.64" stroke-linecap="round" opacity="0.5"/>
<line x1="644.3" y1="314.0" x2="729.0" y2="328.4" stroke="#a9ad60" stroke-width="0.64" stroke-linecap="round" opacity="0.5"/>
<line x1="650.4" y1="313.4" x2="735.9" y2="326.9" stroke="#a9ad60" stroke-width="0.64" stroke-linecap="round" opacity="0.5"/>
<line x1="656.5" y1="312.8" x2="742.9" y2="325.5" stroke="#a9ad60" stroke-width="0.64" stroke-linecap="round" opacity="0.5"/>
<line x1="662.7" y1="312.1" x2="749.8" y2="324.0" stroke="#a9ad60" stroke-width="0.64" stroke-linecap="round" opacity="0.5"/>
<line x1="668.8" y1="311.5" x2="756.8" y2="322.5" stroke="#a9ad60" stroke-width="0.64" stroke-linecap="round" opacity="0.5"/>
<line x1="674.9" y1="310.8" x2="763.7" y2="321.0" stroke="#a9ad60" stroke-width="0.64" stroke-linecap="round" opacity="0.5"/>
<line x1="681.0" y1="310.2" x2="770.6" y2="319.5" stroke="#a9ad60" stroke-width="0.64" stroke-linecap="round" opacity="0.5"/>
<line x1="602.4" y1="319.8" x2="688.5" y2="310.3" stroke="#adb164" stroke-width="0.64" stroke-linecap="round" opacity="0.45"/>
<line x1="610.3" y1="321.9" x2="697.5" y2="311.2" stroke="#adb164" stroke-width="0.64" stroke-linecap="round" opacity="0.45"/>
<line x1="618.1" y1="324.0" x2="706.6" y2="312.1" stroke="#adb164" stroke-width="0.64" stroke-linecap="round" opacity="0.45"/>
<line x1="625.9" y1="326.1" x2="715.6" y2="313.0" stroke="#adb164" stroke-width="0.64" stroke-linecap="round" opacity="0.45"/>
<line x1="633.8" y1="328.1" x2="724.6" y2="313.9" stroke="#adb164" stroke-width="0.64" stroke-linecap="round" opacity="0.45"/>
<line x1="641.6" y1="330.2" x2="733.6" y2="314.8" stroke="#adb164" stroke-width="0.64" stroke-linecap="round" opacity="0.45"/>
<line x1="649.4" y1="332.3" x2="742.6" y2="315.7" stroke="#adb164" stroke-width="0.64" stroke-linecap="round" opacity="0.45"/>
<line x1="657.3" y1="334.3" x2="751.6" y2="316.6" stroke="#adb164" stroke-width="0.64" stroke-linecap="round" opacity="0.45"/>
<line x1="665.1" y1="336.4" x2="760.6" y2="317.5" stroke="#adb164" stroke-width="0.64" stroke-linecap="round" opacity="0.45"/>
<line x1="672.9" y1="338.5" x2="769.6" y2="318.4" stroke="#adb164" stroke-width="0.64" stroke-linecap="round" opacity="0.45"/>
<polyline points="599.6,319.9 676.9,340.3 772.8,319.9" fill="none" stroke="#999c58" stroke-width="1.00" opacity=".75" stroke-dasharray="2.2 0.9"/>
</g></g></g>
<path d="M593.4,308.5 Q640,304.5 683,304.6 Q740,305.5 779.6,314.7 L779.6,333.2 L680.8,363 L594.4,326 Z" fill="#dcdce0" opacity=".06"/>
<polygon points="661.10,205.50 742.30,191.10 817.10,203.90 817.10,259.60 729.60,299.40 665.90,258.00" fill="#dedee1" />
<polygon points="729.60,299.40 817.10,259.60 817.10,203.90 731.00,238.00" fill="#e2e2e5" />
<g filter="url(#soft)"><g filter="url(#tex3)">
<line x1="677.0" y1="204.8" x2="758.2" y2="203.9" stroke="#a5a86a" stroke-width="4.6" stroke-linecap="round"/><line x1="677.0" y1="204.8" x2="758.2" y2="203.9" stroke="#c7ca86" stroke-width="3.7" stroke-linecap="round"/><line x1="677.0" y1="204.1" x2="758.2" y2="203.2" stroke="#d3d698" stroke-width="1.6" stroke-linecap="round"/>
<line x1="675.5" y1="211.8" x2="724.8" y2="281.9" stroke="#a5a86a" stroke-width="4.6" stroke-linecap="round"/><line x1="675.5" y1="211.8" x2="724.8" y2="281.9" stroke="#c7ca86" stroke-width="3.7" stroke-linecap="round"/><line x1="676.1" y1="211.4" x2="725.4" y2="281.5" stroke="#d3d698" stroke-width="1.6" stroke-linecap="round"/>
<line x1="696.2" y1="219.8" x2="786.9" y2="267.5" stroke="#a5a86a" stroke-width="4.6" stroke-linecap="round"/><line x1="696.2" y1="219.8" x2="786.9" y2="267.5" stroke="#c7ca86" stroke-width="3.7" stroke-linecap="round"/><line x1="696.5" y1="219.1" x2="787.2" y2="266.8" stroke="#d3d698" stroke-width="1.6" stroke-linecap="round"/>
<line x1="677.0" y1="253.2" x2="799.6" y2="219.8" stroke="#a5a86a" stroke-width="4.6" stroke-linecap="round"/><line x1="677.0" y1="253.2" x2="799.6" y2="219.8" stroke="#c7ca86" stroke-width="3.7" stroke-linecap="round"/><line x1="676.8" y1="252.5" x2="799.4" y2="219.1" stroke="#d3d698" stroke-width="1.6" stroke-linecap="round"/>
<line x1="742.3" y1="197.5" x2="771.0" y2="266.0" stroke="#a5a86a" stroke-width="4.6" stroke-linecap="round"/><line x1="742.3" y1="197.5" x2="771.0" y2="266.0" stroke="#c7ca86" stroke-width="3.7" stroke-linecap="round"/><line x1="743.0" y1="197.2" x2="771.7" y2="265.7" stroke="#d3d698" stroke-width="1.6" stroke-linecap="round"/>
<line x1="771.0" y1="210.2" x2="777.3" y2="266.0" stroke="#a5a86a" stroke-width="4.6" stroke-linecap="round"/><line x1="771.0" y1="210.2" x2="777.3" y2="266.0" stroke="#c7ca86" stroke-width="3.7" stroke-linecap="round"/><line x1="771.7" y1="210.1" x2="778.0" y2="265.9" stroke="#d3d698" stroke-width="1.6" stroke-linecap="round"/>
<line x1="708.9" y1="213.4" x2="742.3" y2="285.0" stroke="#a5a86a" stroke-width="4.6" stroke-linecap="round"/><line x1="708.9" y1="213.4" x2="742.3" y2="285.0" stroke="#c7ca86" stroke-width="3.7" stroke-linecap="round"/><line x1="709.6" y1="213.1" x2="743.0" y2="284.7" stroke="#d3d698" stroke-width="1.6" stroke-linecap="round"/>
<line x1="728.0" y1="272.3" x2="783.7" y2="270.7" stroke="#a5a86a" stroke-width="4.6" stroke-linecap="round"/><line x1="728.0" y1="272.3" x2="783.7" y2="270.7" stroke="#c7ca86" stroke-width="3.7" stroke-linecap="round"/><line x1="728.0" y1="271.6" x2="783.7" y2="270.0" stroke="#d3d698" stroke-width="1.6" stroke-linecap="round"/>
<line x1="758.2" y1="237.3" x2="809.2" y2="223.0" stroke="#a5a86a" stroke-width="4.6" stroke-linecap="round"/><line x1="758.2" y1="237.3" x2="809.2" y2="223.0" stroke="#c7ca86" stroke-width="3.7" stroke-linecap="round"/><line x1="758.0" y1="236.6" x2="809.0" y2="222.3" stroke="#d3d698" stroke-width="1.6" stroke-linecap="round"/>
<line x1="680.2" y1="238.9" x2="755.0" y2="205.5" stroke="#a5a86a" stroke-width="4.6" stroke-linecap="round"/><line x1="680.2" y1="238.9" x2="755.0" y2="205.5" stroke="#c7ca86" stroke-width="3.7" stroke-linecap="round"/><line x1="679.9" y1="238.2" x2="754.7" y2="204.8" stroke="#d3d698" stroke-width="1.6" stroke-linecap="round"/>
<line x1="682.0" y1="247.0" x2="790.0" y2="247.0" stroke="#a5a86a" stroke-width="4.6" stroke-linecap="round"/><line x1="682.0" y1="247.0" x2="790.0" y2="247.0" stroke="#c7ca86" stroke-width="3.7" stroke-linecap="round"/><line x1="682.0" y1="246.3" x2="790.0" y2="246.3" stroke="#d3d698" stroke-width="1.6" stroke-linecap="round"/>
<line x1="716.9" y1="208.7" x2="799.6" y2="253.2" stroke="#a5a86a" stroke-width="4.6" stroke-linecap="round"/><line x1="716.9" y1="208.7" x2="799.6" y2="253.2" stroke="#c7ca86" stroke-width="3.7" stroke-linecap="round"/><line x1="717.2" y1="208.1" x2="799.9" y2="252.6" stroke="#d3d698" stroke-width="1.6" stroke-linecap="round"/>
<line x1="691.0" y1="252.0" x2="702.0" y2="270.0" stroke="#a5a86a" stroke-width="4.6" stroke-linecap="round"/><line x1="691.0" y1="252.0" x2="702.0" y2="270.0" stroke="#c7ca86" stroke-width="3.7" stroke-linecap="round"/><line x1="691.6" y1="251.6" x2="702.6" y2="269.6" stroke="#d3d698" stroke-width="1.6" stroke-linecap="round"/>
<line x1="745.0" y1="200.0" x2="797.0" y2="252.0" stroke="#a5a86a" stroke-width="4.6" stroke-linecap="round"/><line x1="745.0" y1="200.0" x2="797.0" y2="252.0" stroke="#c7ca86" stroke-width="3.7" stroke-linecap="round"/><line x1="745.5" y1="199.5" x2="797.5" y2="251.5" stroke="#d3d698" stroke-width="1.6" stroke-linecap="round"/>
<line x1="700.0" y1="236.0" x2="760.0" y2="282.0" stroke="#a5a86a" stroke-width="4.6" stroke-linecap="round"/><line x1="700.0" y1="236.0" x2="760.0" y2="282.0" stroke="#c7ca86" stroke-width="3.7" stroke-linecap="round"/><line x1="700.4" y1="235.4" x2="760.4" y2="281.4" stroke="#d3d698" stroke-width="1.6" stroke-linecap="round"/>
<line x1="730.0" y1="210.0" x2="760.0" y2="275.0" stroke="#a5a86a" stroke-width="4.6" stroke-linecap="round"/><line x1="730.0" y1="210.0" x2="760.0" y2="275.0" stroke="#c7ca86" stroke-width="3.7" stroke-linecap="round"/><line x1="730.7" y1="209.7" x2="760.7" y2="274.7" stroke="#d3d698" stroke-width="1.6" stroke-linecap="round"/>
<line x1="690.0" y1="232.0" x2="750.0" y2="232.0" stroke="#a5a86a" stroke-width="4.6" stroke-linecap="round"/><line x1="690.0" y1="232.0" x2="750.0" y2="232.0" stroke="#c7ca86" stroke-width="3.7" stroke-linecap="round"/><line x1="690.0" y1="231.3" x2="750.0" y2="231.3" stroke="#d3d698" stroke-width="1.6" stroke-linecap="round"/>
<line x1="765.0" y1="215.0" x2="790.0" y2="262.0" stroke="#a5a86a" stroke-width="4.6" stroke-linecap="round"/><line x1="765.0" y1="215.0" x2="790.0" y2="262.0" stroke="#c7ca86" stroke-width="3.7" stroke-linecap="round"/><line x1="765.6" y1="214.7" x2="790.6" y2="261.7" stroke="#d3d698" stroke-width="1.6" stroke-linecap="round"/>
<line x1="683.0" y1="222.0" x2="740.0" y2="262.0" stroke="#a5a86a" stroke-width="4.6" stroke-linecap="round"/><line x1="683.0" y1="222.0" x2="740.0" y2="262.0" stroke="#c7ca86" stroke-width="3.7" stroke-linecap="round"/><line x1="683.4" y1="221.4" x2="740.4" y2="261.4" stroke="#d3d698" stroke-width="1.6" stroke-linecap="round"/>
<line x1="720.0" y1="228.0" x2="795.0" y2="228.0" stroke="#a5a86a" stroke-width="4.6" stroke-linecap="round"/><line x1="720.0" y1="228.0" x2="795.0" y2="228.0" stroke="#c7ca86" stroke-width="3.7" stroke-linecap="round"/><line x1="720.0" y1="227.3" x2="795.0" y2="227.3" stroke="#d3d698" stroke-width="1.6" stroke-linecap="round"/>
<line x1="735.0" y1="246.0" x2="800.0" y2="240.0" stroke="#a5a86a" stroke-width="4.6" stroke-linecap="round"/><line x1="735.0" y1="246.0" x2="800.0" y2="240.0" stroke="#c7ca86" stroke-width="3.7" stroke-linecap="round"/><line x1="734.9" y1="245.3" x2="799.9" y2="239.3" stroke="#d3d698" stroke-width="1.6" stroke-linecap="round"/>
<line x1="752.0" y1="222.0" x2="782.0" y2="258.0" stroke="#a5a86a" stroke-width="4.6" stroke-linecap="round"/><line x1="752.0" y1="222.0" x2="782.0" y2="258.0" stroke="#c7ca86" stroke-width="3.7" stroke-linecap="round"/><line x1="752.6" y1="221.5" x2="782.6" y2="257.5" stroke="#d3d698" stroke-width="1.6" stroke-linecap="round"/>
<line x1="700.0" y1="215.0" x2="716.0" y2="252.0" stroke="#a5a86a" stroke-width="4.6" stroke-linecap="round"/><line x1="700.0" y1="215.0" x2="716.0" y2="252.0" stroke="#c7ca86" stroke-width="3.7" stroke-linecap="round"/><line x1="700.7" y1="214.7" x2="716.7" y2="251.7" stroke="#d3d698" stroke-width="1.6" stroke-linecap="round"/>
<line x1="688.0" y1="244.0" x2="735.0" y2="218.0" stroke="#a5a86a" stroke-width="4.6" stroke-linecap="round"/><line x1="688.0" y1="244.0" x2="735.0" y2="218.0" stroke="#c7ca86" stroke-width="3.7" stroke-linecap="round"/><line x1="687.6" y1="243.4" x2="734.6" y2="217.4" stroke="#d3d698" stroke-width="1.6" stroke-linecap="round"/>
<line x1="760.0" y1="255.0" x2="805.0" y2="232.0" stroke="#a5a86a" stroke-width="4.6" stroke-linecap="round"/><line x1="760.0" y1="255.0" x2="805.0" y2="232.0" stroke="#c7ca86" stroke-width="3.7" stroke-linecap="round"/><line x1="759.7" y1="254.3" x2="804.7" y2="231.3" stroke="#d3d698" stroke-width="1.6" stroke-linecap="round"/>
</g></g>
<path d="M697.1,183.8 H722.6 L728.8,201.8" stroke="#111" stroke-width="1.3" fill="none"/>
<path d="M678.3,262 L652.6,316.4 M731.2,292.4 L662.6,316.6" stroke="#111" stroke-width="1.4" fill="none"/>
<path d="M651.6,318 H660.2 V324 H651.6 Z M651.6,318 L654,316.3 H662.7 L660.2,318 M662.7,316.3 V322.4 L660.2,324" stroke="#111" stroke-width="1.25" fill="none" stroke-linejoin="round"/>
<text x="564.5" y="29" font-size="21" fill="#000" text-anchor="start" >c</text>
<text x="698.5" y="50" font-size="18.2" fill="#000" text-anchor="start" >MOF</text>
<text x="681.5" y="141.25" font-size="18.2" fill="#000" text-anchor="start" >PAN</text>
<text x="825.2" y="50" font-size="18.3" fill="#000" text-anchor="start" >Electrospinning</text>
<text x="559" y="178.75" font-size="18.3" fill="#ff0000" text-anchor="start" >3D continuous ion</text>
<text x="559" y="201.25" font-size="18.3" fill="#ff0000" text-anchor="start" >transport network</text>
<text x="581.5" y="389.6" font-size="18.35" fill="#0a0af0" text-anchor="start" >3D-MOF/PAN-based CSEs</text>
<text x="790.5" y="356.75" font-size="18.2" fill="#000" text-anchor="start" >PEO/LiTFSI</text>
<text x="931" y="389.75" font-size="18.2" fill="#000" text-anchor="start" >3D-MOF/PAN</text>
</g>
</svg>
</body></html>
